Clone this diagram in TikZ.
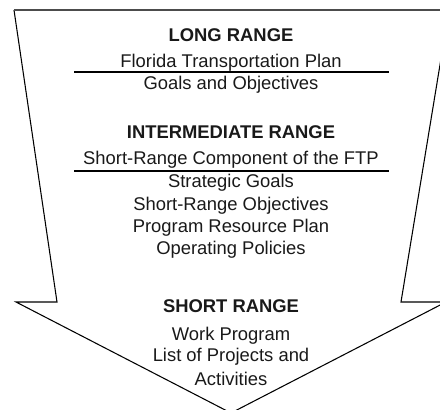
\documentclass[tikz,border=0pt]{standalone}
\usepackage{fontspec}
\setmainfont{Liberation Sans}
\usetikzlibrary{positioning}
\tikzstyle{heading} = [font=\fontsize{13.8}{16}\selectfont\bfseries, text=black!90, inner sep=0pt, anchor=base]
\tikzstyle{item}    = [font=\fontsize{13.8}{16}\selectfont, text=black!90, inner sep=0pt, anchor=base]
\tikzstyle{outline} = [line width=0.8pt, line join=miter]
\tikzstyle{rule}    = [line width=0.8pt]
\begin{document}
\begin{tikzpicture}[x=0.75pt,y=-0.75pt]
		\useasboundingbox (0,0) rectangle (440,410);

		% arrow outline
		\draw[outline] (14,10) -- (57,302) -- (16,302) -- (231,413) -- (446,302) -- (401,302) -- (449,10);
		\draw[line width=1.6pt, black!70] (14,10) -- (449,10);

		% long range
		\draw (231,42) node[heading] (long) {LONG RANGE};
		\draw (231,68) node[item] (ftp) {Florida Transportation Plan};
		\draw[rule] (74,72) -- (389,72);
		\draw (231,90) node[item] (goals) {Goals and Objectives};

		% intermediate range
		\draw (231,139) node[heading] (inter) {INTERMEDIATE RANGE};
		\draw (231,165) node[item] (src) {Short-Range Component of the FTP};
		\draw[rule] (74,171) -- (389,171);
		\draw (231,188) node[item] (strat) {Strategic Goals};
		\draw (231,211) node[item] (obj) {Short-Range Objectives};
		\draw (231,233) node[item] (prp) {Program Resource Plan};
		\draw (231,255) node[item] (pol) {Operating Policies};

		% short range
		\draw (231,313) node[heading] (short) {SHORT RANGE};
		\draw (231,340) node[item] (work) {Work Program};
		\draw (231,362) node[item] (list) {List of Projects and};
		\draw (231,385) node[item] (act) {Activities};
	\end{tikzpicture}
\end{document}
